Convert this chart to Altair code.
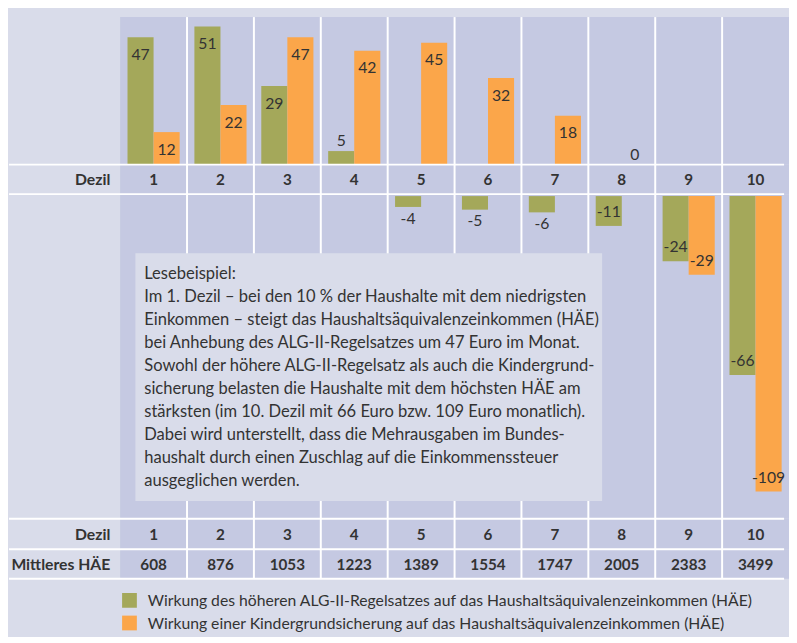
import altair as alt
import pandas as pd

# ---------------- data ----------------
dezile = [1, 2, 3, 4, 5, 6, 7, 8, 9, 10]
alg2_wirkung = [47, 51, 29, 5, -4, -5, -6, -11, -24, -66]
kinder_wirkung = [12, 22, 47, 42, 45, 32, 18, 0, -29, -109]
mittleres_hae = [608, 876, 1053, 1223, 1389, 1554, 1747, 2005, 2383, 3499]
series_keys = ["alg2", "kinder"]
series_names = [
    "Wirkung des höheren ALG-II-Regelsatzes auf das Haushaltsäquivalenzeinkommen (HÄE)",
    "Wirkung einer Kindergrundsicherung auf das Haushaltsäquivalenzeinkommen (HÄE)",
]
series_colors = ["#a4a85a", "#fba64a"]
lese_lines = [
    "Lesebeispiel:",
    "Im 1. Dezil – bei den 10 % der Haushalte mit dem niedrigsten",
    "Einkommen – steigt das Haushaltsäquivalenzeinkommen (HÄE)",
    "bei Anhebung des ALG-II-Regelsatzes um 47 Euro im Monat.",
    "Sowohl der höhere ALG-II-Regelsatz als auch die Kindergrund-",
    "sicherung belasten die Haushalte mit dem höchsten HÄE am",
    "stärksten (im 10. Dezil mit 66 Euro bzw. 109 Euro monatlich).",
    "Dabei wird unterstellt, dass die Mehrausgaben im Bundes-",
    "haushalt durch einen Zuschlag auf die Einkommenssteuer",
    "ausgeglichen werden.",
]

# ---------------- tables ----------------
rows = []
for d, a, k in zip(dezile, alg2_wirkung, kinder_wirkung):
    for key, name, v in ((series_keys[0], series_names[0], a), (series_keys[1], series_names[1], k)):
        rows.append({"dezil": d, "key": key, "serie": name, "wert": v,
                     "label": str(v) if v >= 0 else "-" + str(-v)})
df = pd.DataFrame(rows)
top_df = df[(df.wert > 0) | ((df.wert == 0) & (df.key == "kinder"))]
bot_df = df[df.wert < 0]
dez_df = pd.DataFrame({"dezil": dezile, "hae": mittleres_hae})
sep_df = dez_df[dez_df.dezil > 1]
legend_df = pd.DataFrame({"serie": series_names})
one = pd.DataFrame({"o": [0]})

# ---------------- style ----------------
W = 789
BG = "#d9dcea"
COL = "#c5c9e2"
TXT = "#333333"
FONT = "Lato"
PXU = 2.755

xs = alt.Scale(domain=dezile, range=[114, 794], paddingInner=0, paddingOuter=0)
xo = alt.Scale(domain=series_keys, paddingInner=0, paddingOuter=0.283)
cs = alt.Scale(domain=series_names, range=series_colors)


def X():
    return alt.X("dezil:O", scale=xs, axis=None)


def XO():
    return alt.XOffset("key:N", scale=xo)


def base_layers(h, top_line=True):
    bg = alt.Chart(dez_df).mark_rect(color=COL).encode(
        x=X(), y=alt.value(0), y2=alt.value(h))
    seps = alt.Chart(sep_df).mark_rule(color="white", strokeWidth=2).encode(
        x=alt.X("dezil:O", scale=xs, axis=None, bandPosition=0),
        y=alt.value(0), y2=alt.value(h))
    layers = [bg, seps]
    if top_line:
        layers.append(alt.Chart(one).mark_rule(color="white", strokeWidth=2).encode(
            x=alt.value(1), x2=alt.value(W), y=alt.value(0)))
    return layers


# ---- P1: positive bars ----
H1 = 150
ys1 = alt.Scale(domain=[0, H1 / PXU], nice=False, zero=False)
bars1 = alt.Chart(top_df).mark_bar().encode(
    x=X(), xOffset=XO(),
    y=alt.Y("wert:Q", scale=ys1, axis=None),
    y2=alt.datum(0),
    color=alt.Color("serie:N", scale=cs, legend=None))
lab_in1 = alt.Chart(top_df[top_df.wert >= 10]).mark_text(
    font=FONT, fontSize=16, color=TXT, baseline="alphabetic", dy=23).encode(
    x=X(), xOffset=XO(), y=alt.Y("wert:Q", scale=ys1, axis=None), text="label:N")
lab_out1 = alt.Chart(top_df[top_df.wert < 10]).mark_text(
    font=FONT, fontSize=16, color=TXT, baseline="alphabetic", dy=-5).encode(
    x=X(), xOffset=XO(), y=alt.Y("wert:Q", scale=ys1, axis=None), text="label:N")
p1 = alt.layer(*base_layers(H1, top_line=False), bars1, lab_in1, lab_out1).properties(width=W, height=H1)


def row_panel(h, title, field, ty):
    t = alt.Chart(one).mark_text(font=FONT, fontSize=16, fontWeight="bold", color=TXT,
                                 align="right", baseline="middle").encode(
        x=alt.value(104), y=alt.value(ty), text=alt.value(title))
    nums = alt.Chart(dez_df).mark_text(font=FONT, fontSize=15.5, fontWeight="bold", color=TXT,
                                       baseline="middle").encode(
        x=X(), y=alt.value(ty), text=alt.Text(field, format="d"))
    return alt.layer(*base_layers(h), t, nums).properties(width=W, height=h)


# ---- P2: Dezil row ----
p2 = row_panel(30, "Dezil", "dezil:Q", 15.8)

# ---- P3: negative bars with note ----
H3 = 330
ys3 = alt.Scale(domain=[-(H3 - 2) / PXU, 2 / PXU], nice=False, zero=False)
box = alt.Chart(one).mark_rect(color=BG).encode(
    x=alt.value(129.5), x2=alt.value(604), y=alt.value(60), y2=alt.value(312))
note = alt.Chart(one).mark_text(font=FONT, fontSize=16.8, color=TXT, align="left",
                                baseline="alphabetic", lineHeight=23.4, text=lese_lines).encode(
    x=alt.value(138.5), y=alt.value(86.5))
bars3 = alt.Chart(bot_df).mark_bar().encode(
    x=X(), xOffset=XO(),
    y=alt.Y("wert:Q", scale=ys3, axis=None),
    y2=alt.datum(0),
    color=alt.Color("serie:N", scale=cs, legend=None))
lab_in3 = alt.Chart(bot_df[bot_df.wert <= -10]).mark_text(
    font=FONT, fontSize=16, color=TXT, baseline="alphabetic", dy=-9).encode(
    x=X(), xOffset=XO(), y=alt.Y("wert:Q", scale=ys3, axis=None), text="label:N")
lab_out3 = alt.Chart(bot_df[bot_df.wert > -10]).mark_text(
    font=FONT, fontSize=16, color=TXT, baseline="alphabetic", dy=17).encode(
    x=X(), xOffset=XO(), y=alt.Y("wert:Q", scale=ys3, axis=None), text="label:N")
p3 = alt.layer(*base_layers(H3), box, bars3, lab_in3, lab_out3, note).properties(width=W, height=H3)

# ---- P4 / P5 ----
p4 = row_panel(31, "Dezil", "dezil:Q", 16.7)
p5 = row_panel(30, "Mittleres HÄE", "hae:Q", 15.7)

# ---- P6: legend ----
H6 = 53
ly = alt.Scale(domain=series_names, range=[22, 45], type="point", padding=0)
line6 = alt.Chart(one).mark_rule(color="white", strokeWidth=2).encode(
    x=alt.value(1), x2=alt.value(W), y=alt.value(0))
sq = alt.Chart(legend_df).mark_square(size=225, opacity=1).encode(
    x=alt.value(123.5), y=alt.Y("serie:N", scale=ly, axis=None),
    color=alt.Color("serie:N", scale=cs, legend=None))
lt = alt.Chart(legend_df).mark_text(font=FONT, fontSize=16, color=TXT, align="left",
                                    baseline="middle", dy=1).encode(
    x=alt.value(142), y=alt.Y("serie:N", scale=ly, axis=None), text="serie:N")
p6 = alt.layer(line6, sq, lt).properties(width=W, height=H6)

chart = alt.vconcat(p1, p2, p3, p4, p5, p6, spacing=0, bounds="flush").properties(
    padding={"left": 0, "right": 0, "top": 3, "bottom": 0},
    background=BG,
).configure_view(stroke=None)

chart.save("out.html", embed_options={"renderer": "svg", "actions": False})
